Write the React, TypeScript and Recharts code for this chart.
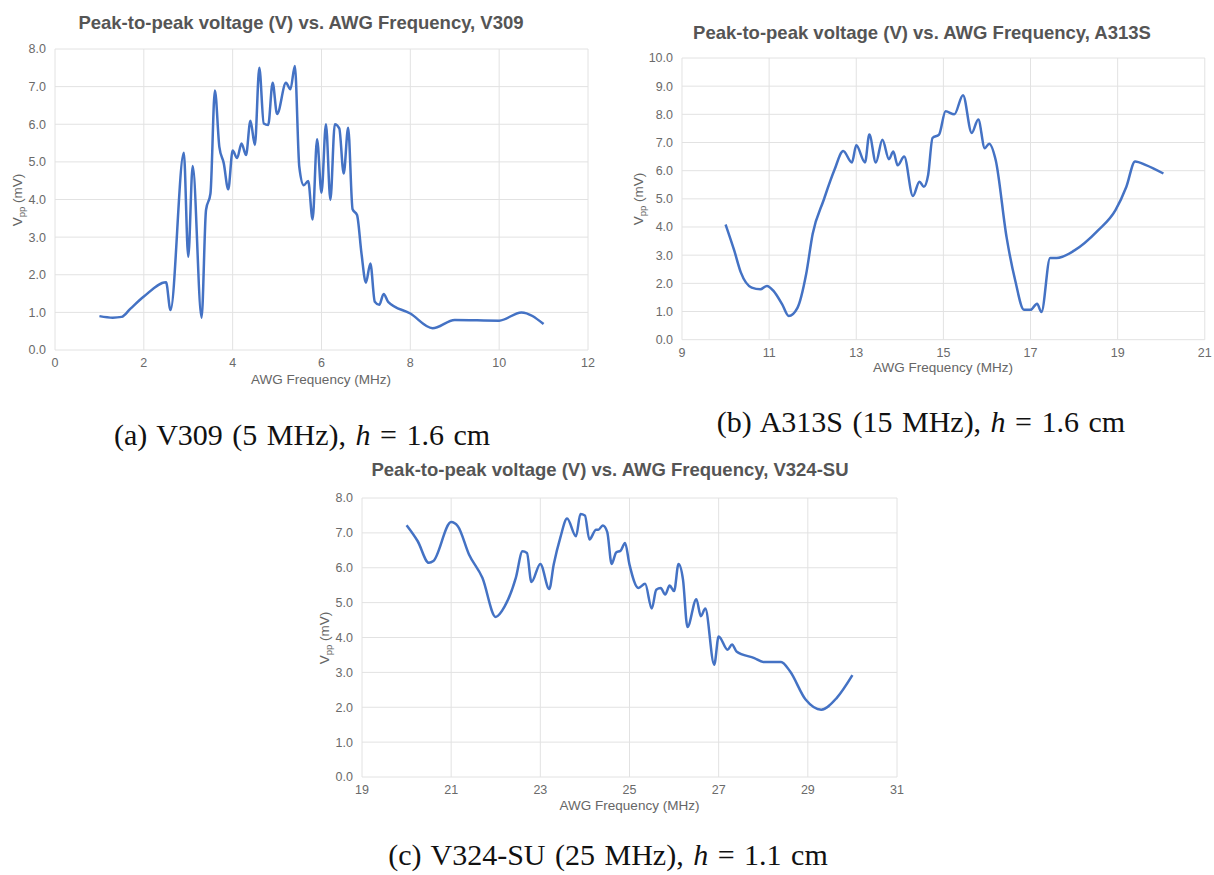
import React from 'react';
import { LineChart, Line, XAxis, YAxis, CartesianGrid } from 'recharts';

// V309 (5 MHz)
const freqV309 = [1.0, 1.3, 1.5, 1.7, 2.0, 2.5, 2.6, 2.9, 3.0, 3.1, 3.3, 3.4, 3.5, 3.6, 3.7, 3.8, 3.9, 4.0, 4.1, 4.2, 4.3, 4.4, 4.5, 4.6, 4.7, 4.8, 4.9, 5.0, 5.2, 5.3, 5.4, 5.5, 5.6, 5.7, 5.8, 5.9, 6.0, 6.1, 6.2, 6.3, 6.4, 6.5, 6.6, 6.7, 6.8, 6.9, 7.0, 7.1, 7.2, 7.3, 7.4, 7.5, 8.0, 8.5, 9.0, 10.0, 10.5, 11.0];
const vppV309 = [0.9, 0.86, 0.88, 1.1, 1.42, 1.8, 1.06, 5.24, 2.48, 4.89, 0.86, 3.72, 4.16, 6.9, 5.4, 4.96, 4.27, 5.3, 5.1, 5.49, 5.18, 6.09, 5.45, 7.5, 6.02, 5.98, 7.1, 6.27, 7.1, 6.93, 7.55, 4.87, 4.38, 4.49, 3.47, 5.6, 4.18, 6.0, 3.99, 6.0, 5.89, 4.69, 5.91, 3.74, 3.59, 2.57, 1.79, 2.3, 1.28, 1.2, 1.49, 1.28, 0.97, 0.58, 0.8, 0.78, 1.0, 0.69];
const xTicksV309 = [0, 2, 4, 6, 8, 10, 12];
const yTicksV309 = [0, 1, 2, 3, 4, 5, 6, 7, 8];

// A313S (15 MHz)
const freqA313S = [10.0, 10.2, 10.35, 10.6, 10.8, 10.95, 11.1, 11.3, 11.45, 11.65, 11.85, 12.0, 12.25, 12.5, 12.7, 12.9, 13.0, 13.2, 13.3, 13.45, 13.6, 13.75, 13.85, 13.95, 14.1, 14.3, 14.45, 14.55, 14.65, 14.75, 14.9, 15.05, 15.25, 15.45, 15.65, 15.8, 15.95, 16.05, 16.2, 16.45, 16.65, 16.85, 17.0, 17.15, 17.25, 17.45, 17.6, 18.0, 18.55, 18.95, 19.2, 19.4, 19.65, 20.05];
const vppA313S = [4.09, 3.16, 2.39, 1.85, 1.79, 1.91, 1.73, 1.25, 0.84, 1.13, 2.33, 3.76, 4.95, 6.03, 6.7, 6.29, 6.9, 6.29, 7.28, 6.29, 7.1, 6.41, 6.68, 6.19, 6.5, 5.1, 5.61, 5.43, 5.85, 7.16, 7.28, 8.11, 8.0, 8.68, 7.34, 7.82, 6.8, 6.96, 6.38, 3.64, 2.09, 1.06, 1.06, 1.28, 0.98, 2.9, 2.9, 3.16, 3.88, 4.6, 5.43, 6.33, 6.2, 5.9];
const xTicksA313S = [9, 11, 13, 15, 17, 19, 21];
const yTicksA313S = [0, 1, 2, 3, 4, 5, 6, 7, 8, 9, 10];

// V324-SU (25 MHz)
const freqV324 = [20.0, 20.25, 20.5, 20.6, 21.0, 21.15, 21.4, 21.7, 22.0, 22.2, 22.45, 22.6, 22.7, 22.8, 23.0, 23.2, 23.3, 23.45, 23.6, 23.8, 23.9, 24.0, 24.1, 24.25, 24.3, 24.4, 24.5, 24.6, 24.7, 24.8, 24.9, 25.0, 25.2, 25.35, 25.5, 25.6, 25.7, 25.8, 25.9, 26.0, 26.1, 26.2, 26.3, 26.5, 26.6, 26.7, 26.9, 27.0, 27.2, 27.3, 27.4, 27.8, 28.0, 28.4, 28.6, 28.95, 29.3, 29.65, 30.0];
const vppV324 = [7.22, 6.76, 6.14, 6.19, 7.31, 7.19, 6.38, 5.71, 4.59, 4.89, 5.71, 6.47, 6.42, 5.59, 6.11, 5.39, 6.09, 6.87, 7.41, 6.9, 7.54, 7.5, 6.81, 7.09, 7.09, 7.21, 7.03, 6.11, 6.44, 6.49, 6.71, 6.09, 5.42, 5.54, 4.83, 5.37, 5.42, 5.23, 5.49, 5.33, 6.11, 5.66, 4.3, 5.1, 4.61, 4.83, 3.22, 4.03, 3.65, 3.8, 3.6, 3.41, 3.3, 3.3, 3.03, 2.22, 1.93, 2.27, 2.92];
const xTicksV324 = [19, 21, 23, 25, 27, 29, 31];
const yTicksV324 = [0, 1, 2, 3, 4, 5, 6, 7, 8];

const SANS = '"Liberation Sans", Arial, Helvetica, sans-serif';
const SERIF = '"Liberation Serif", "Times New Roman", serif';
const LINE = '#4472c4';
const GRID = '#e2e2e2';
const TICK = '#6a6a6a';

const Y_W = 50;
const X_H = 30;
const M = { top: 12, right: 15, left: 0, bottom: 0 };

const centered = (x: number, y: number): React.CSSProperties => ({
  position: 'absolute', left: x, top: y, transform: 'translate(-50%, -50%)', whiteSpace: 'nowrap',
});

type PanelProps = {
  freq: number[];
  vpp: number[];
  xTicks: number[];
  yTicks: number[];
  plot: { left: number; top: number; right: number; bottom: number };
  title: string;
  titleAt: [number, number];
  xTitleAt: [number, number];
  yTitleAt: [number, number];
};

const Panel = ({ freq, vpp, xTicks, yTicks, plot, title, titleAt, xTitleAt, yTitleAt }: PanelProps) => {
  const data = freq.map((f, i) => ({ f, v: vpp[i] }));
  const w = plot.right - plot.left + Y_W + M.right;
  const h = plot.bottom - plot.top + M.top + X_H;
  return (
    <>
      <div style={{ ...centered(titleAt[0], titleAt[1]), fontFamily: SANS, fontWeight: 700, fontSize: 18.5, color: '#555' }}>
        {title}
      </div>
      <div style={{ position: 'absolute', left: plot.left - Y_W, top: plot.top - M.top }}>
        <LineChart width={w} height={h} data={data} margin={M}>
          <CartesianGrid stroke={GRID} strokeWidth={1} />
          <XAxis
            type="number"
            dataKey="f"
            domain={[xTicks[0], xTicks[xTicks.length - 1]]}
            ticks={xTicks}
            height={X_H}
            axisLine={false}
            tickLine={false}
            interval={0}
            tick={{ fill: TICK, fontSize: 12.5, fontFamily: SANS }}
          />
          <YAxis
            type="number"
            domain={[yTicks[0], yTicks[yTicks.length - 1]]}
            ticks={yTicks}
            width={Y_W}
            axisLine={false}
            tickLine={false}
            interval={0}
            tickMargin={3}
            tickFormatter={(v: number) => v.toFixed(1)}
            tick={{ fill: TICK, fontSize: 12.5, fontFamily: SANS }}
          />
          <Line type="monotone" dataKey="v" stroke={LINE} strokeWidth={2.5} dot={false} isAnimationActive={false} />
        </LineChart>
      </div>
      <div style={{ ...centered(xTitleAt[0], xTitleAt[1]), fontFamily: SANS, fontSize: 13.5, color: '#666' }}>
        AWG Frequency (MHz)
      </div>
      <div style={{ ...centered(yTitleAt[0], yTitleAt[1]), transform: 'translate(-50%, -50%) rotate(-90deg)', fontFamily: SANS, fontSize: 13.5, color: '#666' }}>
        V<span style={{ fontSize: 9.5, position: 'relative', top: 3 }}>pp</span> (mV)
      </div>
    </>
  );
};

const Caption = ({ x, y, label, rest }: { x: number; y: number; label: string; rest: string }) => (
  <div style={{ ...centered(x, y), fontFamily: SERIF, fontSize: 30, color: '#111', wordSpacing: 2 }}>
    {label} <i>h</i> = {rest}
  </div>
);

export default function App() {
  return (
    <div style={{ position: 'absolute', left: 0, top: 0, width: 1214, height: 875, background: '#fff', overflow: 'hidden' }}>
      <Panel
        freq={freqV309}
        vpp={vppV309}
        xTicks={xTicksV309}
        yTicks={yTicksV309}
        plot={{ left: 54.5, top: 49, right: 587.5, bottom: 350 }}
        title="Peak-to-peak voltage (V) vs. AWG Frequency, V309"
        titleAt={[301, 23]}
        xTitleAt={[321, 379]}
        yTitleAt={[17, 200]}
      />
      <Panel
        freq={freqA313S}
        vpp={vppA313S}
        xTicks={xTicksA313S}
        yTicks={yTicksA313S}
        plot={{ left: 681.7, top: 58.3, right: 1204.5, bottom: 340 }}
        title="Peak-to-peak voltage (V) vs. AWG Frequency, A313S"
        titleAt={[922, 33]}
        xTitleAt={[943, 367]}
        yTitleAt={[638, 199]}
      />
      <Panel
        freq={freqV324}
        vpp={vppV324}
        xTicks={xTicksV324}
        yTicks={yTicksV324}
        plot={{ left: 362, top: 498, right: 897, bottom: 777 }}
        title="Peak-to-peak voltage (V) vs. AWG Frequency, V324-SU"
        titleAt={[610, 470]}
        xTitleAt={[629.5, 805]}
        yTitleAt={[324, 638]}
      />
      <Caption x={302} y={435} label="(a) V309 (5 MHz)," rest="1.6 cm" />
      <Caption x={921} y={422} label="(b) A313S (15 MHz)," rest="1.6 cm" />
      <Caption x={608} y={855} label="(c) V324-SU (25 MHz)," rest="1.1 cm" />
    </div>
  );
}
